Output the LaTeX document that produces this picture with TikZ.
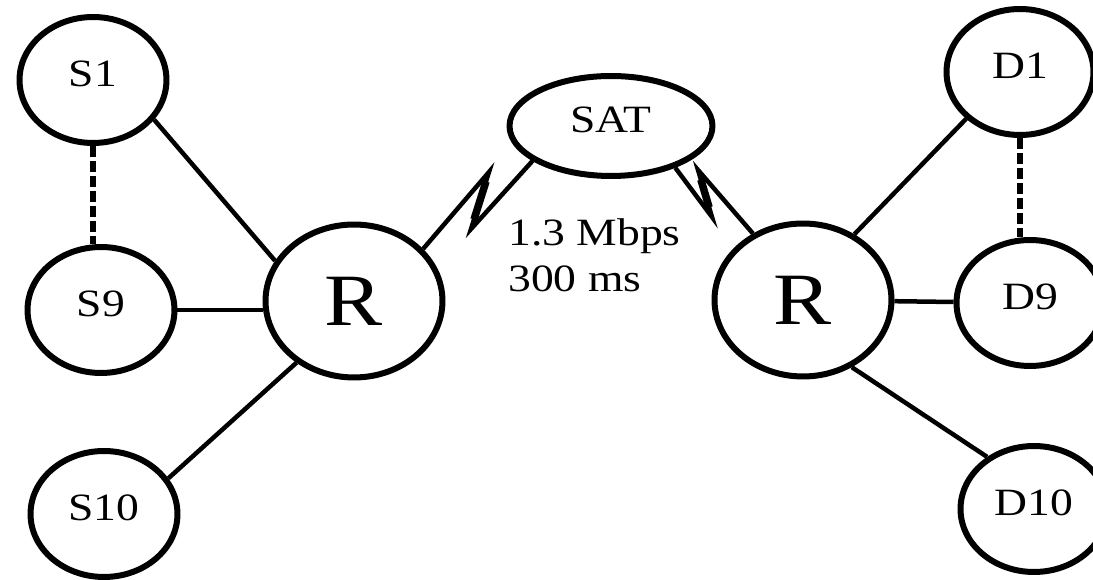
\documentclass[tikz,border=0pt]{standalone}
\usepackage{fontspec}
\setmainfont{Liberation Serif}[FakeStretch=1.18]
\usetikzlibrary{shapes.geometric}

\begin{document}
\begin{tikzpicture}[x=0.02cm, y=-0.02cm,
  host/.style={draw, ellipse, line width=0.12cm, inner sep=0pt,
    minimum width=2.94cm, minimum height=2.52cm,
    font=\fontsize{22}{26.6}\selectfont, text height=0.51cm, text depth=0.23cm},
  router/.style={draw, ellipse, line width=0.12cm, inner sep=0pt,
    minimum width=3.54cm, minimum height=3.06cm,
    font=\fontsize{42}{50}\selectfont},
  link/.style={line width=0.09cm},
  dashlink/.style={line width=0.13cm, dash pattern=on 0.22cm off 0.08cm},
  radio/.style={line width=0.09cm, miter limit=12},
  bolt/.style={line width=0.15cm, shorten <=0.2cm, shorten >=0.2cm}
]
\useasboundingbox (0,0) rectangle (1093,580);

\node[host] (s1) at (93,80) {S1};
\node[host] (s9) at (101,310) {S9};
\node[host] (s10) at (104,514) {S10};
\node[router] (rs) at (354,301) {R};
\node[host, minimum width=4.06cm, minimum height=2cm] (sat) at (611,126) {SAT};
\node[router] (rd) at (803,300) {R};
\node[host] (d1) at (1020,72) {D1};
\node[host] (d9) at (1030,303) {D9};
\node[host] (d10) at (1034,509) {D10};

\node[font=\fontsize{22}{26.6}\selectfont, align=left, anchor=north west,
  inner sep=0pt] (rate) at (508,218) {1.3 Mbps\\300 ms};

\coordinate (bs1) at (471,229);
\coordinate (bs2) at (489,172);
\coordinate (bd1) at (712,217);
\coordinate (bd2) at (698,170);

\draw[radio] (sat.204) -- (bs1) -- (bs2) -- (rs.37);
\draw[bolt] (bs1) -- (bs2);
\draw[radio] (sat.327) -- (bd1) -- (bd2) -- (rd.127);
\draw[bolt] (bd1) -- (bd2);

\draw[link] (s1.-33) -- (rs.153);
\draw[link] (s9.east) -- (rs.west |- s9.east);
\draw[link] (s10.29) -- (rs.227);
\draw[link] (rd.52) -- (d1.221);
\draw[link] (rd) -- (d9);
\draw[link] (rd.306) -- (d10.132);

\draw[dashlink] (s1.south) -- (s1.south |- s9.north);
\draw[dashlink] (d1.south) -- (d1.south |- d9.north);

\end{tikzpicture}
\end{document}
